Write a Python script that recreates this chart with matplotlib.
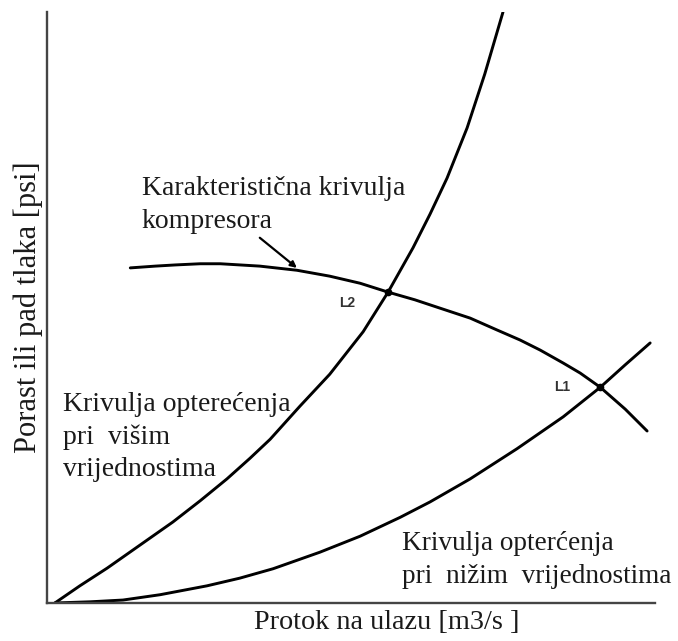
import matplotlib
matplotlib.use('Agg')
import matplotlib.pyplot as plt

plt.rcParams['font.family'] = ['Liberation Serif', 'DejaVu Serif']

# load curve at higher values (steep)
high_x = [0.13, 0.54, 0.99, 1.53, 2.07, 2.52, 2.96, 3.34, 3.67, 4.16,
          4.65, 5.20, 5.61, 6.02, 6.30, 6.58, 6.91, 7.20, 7.50]
high_y = [0.00, 0.29, 0.59, 0.98, 1.37, 1.73, 2.10, 2.45, 2.77, 3.33,
          3.87, 4.59, 5.26, 6.01, 6.58, 7.19, 8.04, 8.95, 10.0]

# load curve at lower values
low_x = [0.13, 0.71, 1.25, 1.86, 2.63, 3.17, 3.72, 4.49, 5.15, 5.81,
         6.30, 6.96, 7.73, 8.49, 9.10, 9.51, 9.92]
low_y = [0.00, 0.02, 0.05, 0.14, 0.29, 0.42, 0.58, 0.86, 1.13, 1.45,
         1.71, 2.10, 2.61, 3.15, 3.65, 4.03, 4.40]

# compressor characteristic
comp_x = [1.37, 1.78, 2.11, 2.52, 2.85, 3.50, 4.11, 4.65, 5.15, 5.61, 6.05,
          6.46, 6.96, 7.40, 7.78, 8.11, 8.49, 8.77, 9.10, 9.51, 9.87]
comp_y = [5.67, 5.70, 5.72, 5.74, 5.74, 5.70, 5.63, 5.53, 5.41, 5.26, 5.13,
          4.99, 4.82, 4.62, 4.45, 4.28, 4.06, 3.89, 3.65, 3.28, 2.91]

# operating points
pts_x = [9.10, 5.61]
pts_y = [3.65, 5.26]
pts_lab = ['L1', 'L2']

fig = plt.figure(figsize=(6.78, 6.41), dpi=100)
ax = fig.add_axes([0.0693, 0.0593, 0.8968, 0.9220])

for xs, ys in [(high_x, high_y), (low_x, low_y), (comp_x, comp_y)]:
    ax.plot(xs, ys, color='black', lw=2.1, solid_capstyle='round',
            solid_joinstyle='round')
ax.plot(pts_x, pts_y, 'o', color='black', ms=4.5)

ax.text(pts_x[0] - 0.63, pts_y[0], pts_lab[0], fontsize=10, fontweight='bold',
        family='Liberation Sans', color='#333333', ha='center', va='center')
ax.text(pts_x[1] - 0.68, pts_y[1] - 0.19, pts_lab[1], fontsize=10, fontweight='bold',
        family='Liberation Sans', color='#333333', ha='center', va='center')

fs = 20
tc = '#1a1a1a'
ax.text(1.56, 7.22, 'Karakteristična krivulja\nkompresora', fontsize=fs,
        color=tc, ha='left', va='top', linespacing=1.38)
ax.annotate('', xy=(4.11, 5.67), xytext=(3.50, 6.18),
            arrowprops=dict(arrowstyle='-|>', lw=1.6, color='black',
                            mutation_scale=9, shrinkA=0, shrinkB=0))
ax.text(0.26, 3.57, 'Krivulja opterećenja\npri  višim\nvrijednostima', fontsize=fs,
        color=tc, ha='left', va='top', linespacing=1.38)
ax.text(5.84, 1.21, 'Krivulja opterćenja\npri  nižim  vrijednostima', fontsize=19.6,
        color=tc, ha='left', va='top', linespacing=1.4)

ax.set_xlim(0, 10)
ax.set_ylim(0, 10)
for s in ['top', 'right']:
    ax.spines[s].set_visible(False)
for s in ['left', 'bottom']:
    ax.spines[s].set_color('#444444')
    ax.spines[s].set_linewidth(1.7)
ax.set_xticks([])
ax.set_yticks([])

ax.set_xlabel('Protok na ulazu [m3/s ]', fontsize=20.3, color=tc)
ax.set_ylabel('Porast ili pad tlaka [psi]', fontsize=22, color=tc)
ax.xaxis.set_label_coords(0.558, -0.012)
ax.yaxis.set_label_coords(-0.006, 0.50)

fig.savefig('out.png', dpi=100)
